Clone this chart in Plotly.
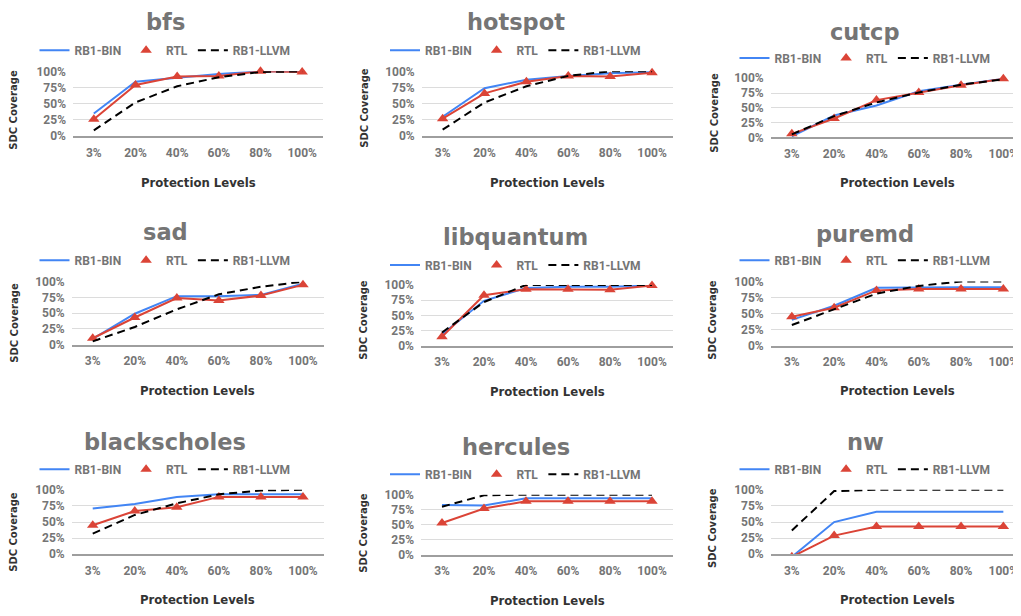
import plotly.graph_objects as go

levels = ["3%", "20%", "40%", "60%", "80%", "100%"]
series_names = ["RB1-BIN", "RTL", "RB1-LLVM"]
benchmarks = ["bfs", "hotspot", "cutcp", "sad", "libquantum", "puremd",
              "blackscholes", "hercules", "nw"]
y_tick_vals = [0, 25, 50, 75, 100]
y_tick_text = ["0%", "25%", "50%", "75%", "100%"]

bfs_bin = [35, 84, 90, 96, 100, 100]
bfs_rtl = [26, 79, 92, 93, 100, 99]
bfs_llvm = [9, 52, 77, 91, 99, 100]

hotspot_bin = [30, 74, 87, 93, 97, 99]
hotspot_rtl = [27, 66, 84, 93, 92, 98]
hotspot_llvm = [10, 52, 77, 93, 100, 100]

cutcp_bin = [2, 37, 54, 78, 89, 99]
cutcp_rtl = [6, 32, 63, 76, 88, 99]
cutcp_llvm = [5, 36, 59, 76, 89, 98]

sad_bin = [9, 49, 77, 77, 79, 97]
sad_rtl = [10, 43, 74, 70, 78, 95]
sad_llvm = [5, 28, 56, 80, 92, 100]

libquantum_bin = [19, 74, 95, 97, 97, 99]
libquantum_rtl = [15, 83, 93, 93, 92, 99]
libquantum_llvm = [22, 72, 100, 100, 100, 100]

puremd_bin = [40, 62, 90, 91, 91, 91]
puremd_rtl = [45, 59, 86, 88, 88, 88]
puremd_llvm = [32, 57, 81, 93, 100, 100]

blackscholes_bin = [71, 78, 89, 93, 93, 93]
blackscholes_rtl = [45, 67, 73, 89, 89, 89]
blackscholes_llvm = [32, 61, 79, 93, 99, 100]

hercules_bin = [83, 82, 94, 94, 94, 94]
hercules_rtl = [53, 77, 89, 89, 89, 89]
hercules_llvm = [80, 99, 100, 100, 100, 100]

nw_bin = [-4, 50, 66, 66, 66, 66]
nw_rtl = [-4, 29, 43, 43, 43, 43]
nw_llvm = [37, 98, 100, 100, 100, 100]

data = {
    "bfs": (bfs_bin, bfs_rtl, bfs_llvm),
    "hotspot": (hotspot_bin, hotspot_rtl, hotspot_llvm),
    "cutcp": (cutcp_bin, cutcp_rtl, cutcp_llvm),
    "sad": (sad_bin, sad_rtl, sad_llvm),
    "libquantum": (libquantum_bin, libquantum_rtl, libquantum_llvm),
    "puremd": (puremd_bin, puremd_rtl, puremd_llvm),
    "blackscholes": (blackscholes_bin, blackscholes_rtl, blackscholes_llvm),
    "hercules": (hercules_bin, hercules_rtl, hercules_llvm),
    "nw": (nw_bin, nw_rtl, nw_llvm),
}

PAGE_W, PAGE_H = 1021, 616
OFF = 8  # default page body margin
W, H = PAGE_W - OFF, PAGE_H - OFF

# layout geometry in page pixels: plot box (left, right, top, bottom), title y,
# legend y, y-title (x, y), x-title y
geom = [
    (73, 323, 65.7, 132, 15, 44, 14, 105, 180),
    (421.7, 673, 65.7, 132, 15, 44, 365, 103, 180),
    (770.7, 1024.5, 72.7, 133.3, 25, 52, 715, 108, 180),
    (71.7, 324, 281, 345.3, 230, 259, 15, 323, 393),
    (421, 673, 284.3, 346.7, 235, 264, 364, 320, 394),
    (770.7, 1024.5, 280.7, 346.3, 232, 259, 713, 320, 393),
    (71.7, 324, 494, 560, 445, 473, 14, 537, 607),
    (421, 673, 499, 560.7, 450, 478, 364, 538, 608),
    (770.7, 1024.5, 494, 560, 445, 473, 713, 533, 607),
]
title_cx = [165, 515.5, 865]


def px(x):
    return (x - OFF) / W


def py(y):
    return 1 - (y - OFF) / H


BLUE = "#4285f4"
RED = "#db4437"
BLACK = "#000000"
GRAY = "#757575"
DARK = "#333333"
FONT = "Roboto"
HEAVY = "DejaVu Sans"

fig = go.Figure()
layout = dict(
    width=W, height=H, margin=dict(l=0, r=0, t=0, b=0),
    paper_bgcolor="white", plot_bgcolor="white",
    font=dict(family=FONT, color=GRAY),
)
annotations = []

for i, name in enumerate(benchmarks):
    k = i + 1
    sfx = "" if k == 1 else str(k)
    xa, ya = "x" + sfx, "y" + sfx
    lg = "legend" + sfx
    l, r, t, b, ty, legy, ytx, yty, xty = geom[i]
    bin_v, rtl_v, llvm_v = data[name]
    clip = (name == "nw")

    fig.add_trace(go.Scatter(x=levels, y=bin_v, mode="lines", name=series_names[0],
                             line=dict(color=BLUE, width=2), xaxis=xa, yaxis=ya,
                             legend=lg, cliponaxis=clip))
    fig.add_trace(go.Scatter(x=levels, y=rtl_v, mode="lines", name=series_names[1],
                             line=dict(color=RED, width=2), xaxis=xa, yaxis=ya,
                             legend=lg, showlegend=False, cliponaxis=clip))
    fig.add_trace(go.Scatter(x=levels, y=rtl_v, mode="markers", name=series_names[1],
                             marker=dict(symbol="triangle-up", size=10, color=RED),
                             xaxis=xa, yaxis=ya, legend=lg, cliponaxis=clip))
    fig.add_trace(go.Scatter(x=levels, y=llvm_v, mode="lines", name=series_names[2],
                             line=dict(color=BLACK, width=2, dash="8px,5px"),
                             xaxis=xa, yaxis=ya, legend=lg, cliponaxis=clip))

    rr = min(r, PAGE_W)
    step = (r - l) / 6.0
    layout["xaxis" + sfx] = dict(
        domain=[px(l), px(rr)], anchor=ya, type="category",
        categoryorder="array", categoryarray=levels,
        range=[-0.5, -0.5 + (rr - l) / step],
        showgrid=False, zeroline=False, showline=True, linecolor="#9e9e9e",
        linewidth=2, ticks="", ticklabelstandoff=4,
        tickfont=dict(family=FONT, size=12, color=GRAY, weight="bold"),
        fixedrange=True,
    )
    layout["yaxis" + sfx] = dict(
        domain=[py(b), py(t)], anchor=xa, range=[0, 100],
        tickmode="array", tickvals=y_tick_vals, ticktext=y_tick_text,
        showgrid=True, gridcolor="#dcdcdc", gridwidth=1, zeroline=False,
        showline=False, ticks="", ticklabelstandoff=6,
        tickfont=dict(family=FONT, size=12, color=GRAY, weight="bold"),
        fixedrange=True,
    )
    cx = title_cx[i % 3]
    layout[lg] = dict(
        orientation="h", x=px(cx), y=py(legy), xanchor="center", yanchor="middle",
        font=dict(family=FONT, size=12, color=GRAY, weight="bold"),
        bgcolor="rgba(0,0,0,0)", itemwidth=30, tracegroupgap=0,
    )
    annotations.append(dict(
        text=name, x=px(cx), y=py(ty), xref="paper", yref="paper",
        xanchor="center", yanchor="middle", showarrow=False,
        font=dict(family=HEAVY, size=22.5, color=GRAY, weight="bold"),
    ))
    annotations.append(dict(
        text="SDC Coverage", x=px(ytx), y=py(yty), xref="paper", yref="paper",
        xanchor="center", yanchor="middle", showarrow=False, textangle=-90,
        font=dict(family=HEAVY, size=10, color=DARK, weight="bold"),
    ))
    annotations.append(dict(
        text="Protection Levels", x=px((l + r) / 2), y=py(xty),
        xref="paper", yref="paper", xanchor="center", yanchor="middle",
        showarrow=False,
        font=dict(family=HEAVY, size=11.7, color=DARK, weight="bold"),
    ))

layout["annotations"] = annotations
fig.update_layout(**layout)
fig.write_html("out.html")
